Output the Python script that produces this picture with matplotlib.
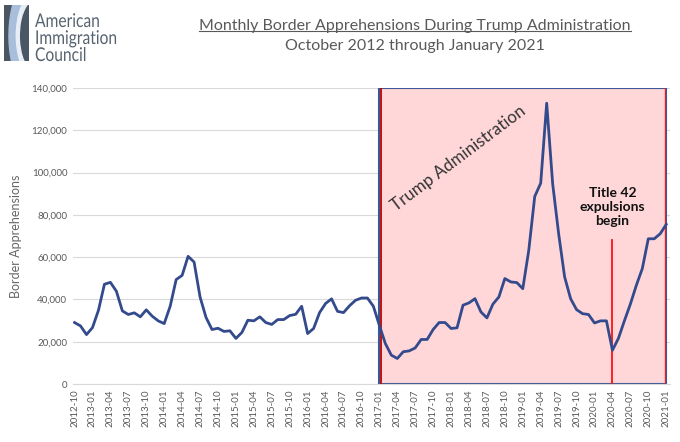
import numpy as np
import matplotlib.pyplot as plt
from matplotlib.patches import Rectangle, Wedge, PathPatch
from matplotlib.lines import Line2D
from matplotlib.textpath import TextPath
from matplotlib.font_manager import FontProperties
from matplotlib.transforms import Affine2D

plt.rcParams['font.family'] = ['Lato', 'DejaVu Sans']

# monthly apprehensions, 2012-10 .. 2021-01 (thousands)
months = ["%d-%02d" % (2012 + (9 + i) // 12, (9 + i) % 12 + 1) for i in range(100)]
apprehensions_k = [
    29.1, 27.5, 23.4, 26.7, 34.9, 47.2, 48.1, 43.9, 34.6, 32.9, 33.7, 31.8,
    35.1, 32.1, 29.9, 28.6, 36.8, 49.4, 51.4, 60.4, 57.7, 41.2, 31.5, 25.8,
    26.4, 24.9, 25.2, 21.6, 24.4, 30.2, 29.9, 31.8, 29.1, 28.2, 30.5, 30.5,
    32.4, 33.0, 36.8, 23.9, 26.3, 33.8, 38.1, 40.3, 34.4, 33.8, 37.0, 39.6,
    40.7, 40.7, 36.8, 27.8, 19.2, 13.7, 12.1, 15.3, 15.7, 17.1, 21.1, 21.1,
    25.8, 29.1, 29.1, 26.3, 26.6, 37.3, 38.4, 40.4, 34.1, 31.3, 37.8, 41.2,
    49.9, 48.3, 48.0, 45.1, 63.2, 88.7, 95.0, 132.8, 94.7, 71.1, 50.7, 40.4,
    35.2, 33.3, 32.9, 28.9, 29.9, 29.9, 16.0, 21.6, 29.9, 37.8, 46.7, 54.6,
    68.7, 68.7, 71.1, 75.5,
]
values = np.array(apprehensions_k) * 1000
tick_labels = months[::3]

trump_start = months.index("2017-01")
trump_end = months.index("2021-01")
title42 = months.index("2020-04")

fig = plt.figure(figsize=(6.8, 4.42), dpi=100)
ax = fig.add_axes([0.107, 0.131, 0.878, 0.670])
x = np.arange(len(months))

ax.add_patch(Rectangle((trump_start, 0), trump_end - trump_start, 140000,
                       facecolor='#FFD7D9', edgecolor='#3A5796', lw=1.5, zorder=1))
ax.plot([trump_start + 0.25] * 2, [0, 140000], color='#C00000', lw=1.3, zorder=2)
ax.plot([trump_end - 0.25] * 2, [0, 140000], color='#E0202A', lw=0.9, zorder=2)

ax.plot(x, values, color='#334A8C', lw=2.0, zorder=4, solid_joinstyle='round')
ax.plot([title42, title42], [0, 68000], color='#FF1010', lw=1.3, zorder=3)

ax.text(title42, 83500, "Title 42\nexpulsions\nbegin", ha='center', va='center',
        fontsize=10, fontweight='bold', color='#111111', linespacing=1.2, zorder=5)
ax.text(64.2, 106500, "Trump Administration", rotation=37, ha='center', va='center',
        fontsize=12.2, color='#333333', zorder=5)

ax.set_xlim(-0.3, 99.6)
ax.set_ylim(0, 140000)
ax.set_yticks(np.arange(0, 140001, 20000))
ax.set_yticklabels([f"{v:,}" for v in range(0, 140001, 20000)])
ax.set_xticks(x[::3])
ax.set_xticklabels(tick_labels, rotation=90)
ax.tick_params(axis='both', length=0, labelsize=7, colors='#595959', pad=4)
ax.grid(axis='y', color='#D9D9D9', lw=0.8, zorder=0)
ax.set_axisbelow(True)
for s in ['top', 'right', 'left']:
    ax.spines[s].set_visible(False)
ax.spines['bottom'].set_color('#D9D9D9')
ax.set_ylabel("Border Apprehensions", fontsize=9, color='#666666', labelpad=7)

# title
t1 = fig.text(0.61, 0.942, "Monthly Border Apprehensions During Trump Administration",
              ha='center', va='center', fontsize=11.5, color='#595959')
fig.text(0.61, 0.897, "October 2012 through January 2021",
         ha='center', va='center', fontsize=11.5, color='#595959')
fig.canvas.draw()
bb = t1.get_window_extent().transformed(fig.transFigure.inverted())
fig.add_artist(Line2D([bb.x0, bb.x1], [bb.y0 + 0.004, bb.y0 + 0.004],
                      color='#595959', lw=0.8, transform=fig.transFigure))

# logo
lax = fig.add_axes([0.006, 0.862, 0.036, 0.127])
lax.set_xlim(0, 1)
lax.set_ylim(0, 1)
lax.axis('off')
box = Rectangle((0, 0), 1, 1, color='#4A5663')
lax.add_patch(box)
w = Wedge((1.25, 0.45), 1.05, 120, 250, width=0.35, color='#A9BEDB')
lax.add_patch(w)
w.set_clip_path(box)
w2 = Wedge((1.25, 0.45), 0.75, 120, 250, width=0.12, color='#E8EEF6')
lax.add_patch(w2)
w2.set_clip_path(box)

# logo wordmark, squeezed horizontally in pixel space
fp = FontProperties(family='Lato')
for line, base_y in [("American", 415), ("Immigration", 398), ("Council", 381)]:
    tp = TextPath((0, 0), line, size=19, prop=fp)
    tr = Affine2D().scale(0.82, 1.0).translate(35, base_y)
    fig.add_artist(PathPatch(tr.transform_path(tp), facecolor='#56636F', lw=0,
                             transform=None))

fig.savefig("out.png", dpi=100)
